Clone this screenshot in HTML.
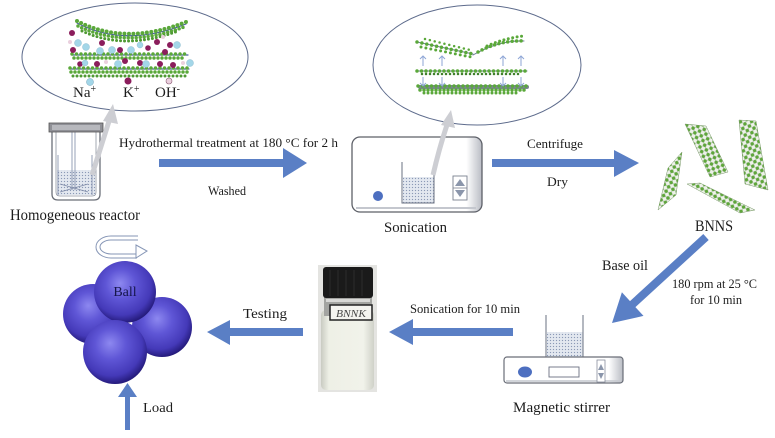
<!DOCTYPE html>
<html><head><meta charset="utf-8"><style>
html,body{margin:0;padding:0;background:#fff;}
svg{display:block;}
text{font-family:"Liberation Serif","DejaVu Serif",serif;fill:#1c1c1c;}
</style></head><body>
<svg width="775" height="438" viewBox="0 0 775 438" xmlns="http://www.w3.org/2000/svg">
<defs>
<pattern id="dots" width="3" height="3" patternUnits="userSpaceOnUse"><rect width="3" height="3" fill="#e3e8f0"/><circle cx="1.5" cy="1.5" r="0.65" fill="#8b99b6"/></pattern>
<pattern id="lat" width="5" height="5" patternUnits="userSpaceOnUse" patternTransform="rotate(-60)"><rect width="5" height="5" fill="#eef2ea"/><path d="M0,2.5 H5 M2.5,0 V5" stroke="#8a968a" stroke-width="0.6"/><circle cx="2.5" cy="2.5" r="1.7" fill="#5ea63a"/></pattern>
<pattern id="lat2" width="5" height="5" patternUnits="userSpaceOnUse" patternTransform="rotate(-20)"><rect width="5" height="5" fill="#eef2ea"/><path d="M0,2.5 H5 M2.5,0 V5" stroke="#8a968a" stroke-width="0.6"/><circle cx="2.5" cy="2.5" r="1.7" fill="#5ea63a"/></pattern>
<pattern id="lat3" width="5" height="5" patternUnits="userSpaceOnUse" patternTransform="rotate(25)"><rect width="5" height="5" fill="#eef2ea"/><path d="M0,2.5 H5 M2.5,0 V5" stroke="#8a968a" stroke-width="0.6"/><circle cx="2.5" cy="2.5" r="1.7" fill="#5ea63a"/></pattern>
<radialGradient id="ball" cx="0.45" cy="0.4" r="0.6" fx="0.42" fy="0.36">
<stop offset="0" stop-color="#8d88f0"/><stop offset="0.4" stop-color="#5f56d6"/><stop offset="0.8" stop-color="#4439b8"/><stop offset="1" stop-color="#251b7c"/></radialGradient>
<linearGradient id="dev" x1="0" y1="0" x2="1" y2="0"><stop offset="0" stop-color="#fff"/><stop offset="0.88" stop-color="#fff"/><stop offset="1" stop-color="#b9bcc4"/></linearGradient>
<linearGradient id="vial" x1="0" y1="0" x2="1" y2="0"><stop offset="0" stop-color="#c9cbc2"/><stop offset="0.15" stop-color="#eef0e6"/><stop offset="0.8" stop-color="#f1f2ea"/><stop offset="1" stop-color="#cfd1c8"/></linearGradient>
</defs>

<!-- Left ellipse -->
<ellipse cx="135" cy="57" rx="113" ry="54" fill="#fff" stroke="#5d6b8c" stroke-width="1"/>
<g fill="none" stroke-linecap="round">
<path d="M77,23 Q125,48 186,24" stroke="#4a5fa0" stroke-width="1.2"/>
<path d="M77,21 Q125,46 186,22" stroke="#5aa83a" stroke-width="4" stroke-dasharray="0 4.5"/>
<path d="M78,26 Q125,49 184,27" stroke="#5aa83a" stroke-width="3.5" stroke-dasharray="0 4"/>
<path d="M82,31 Q125,51 178,31" stroke="#4f9a33" stroke-width="3" stroke-dasharray="0 4"/>
<path d="M72,55 H188" stroke="#4a5fa0" stroke-width="1.2"/>
<path d="M72,54 H188" stroke="#5aa83a" stroke-width="3.5" stroke-dasharray="0 4.5"/>
<path d="M74,58 H186" stroke="#5aa83a" stroke-width="3.5" stroke-dasharray="0 4"/>
<path d="M70,69 H189" stroke="#4a5fa0" stroke-width="1.2"/>
<path d="M70,68 H189" stroke="#5aa83a" stroke-width="3.5" stroke-dasharray="0 4.5"/>
<path d="M71,72 H188" stroke="#5aa83a" stroke-width="3.5" stroke-dasharray="0 4"/>
<path d="M73,76 H186" stroke="#4f9a33" stroke-width="3" stroke-dasharray="0 4"/>
</g>
<g fill="#8b1d5c">
<circle cx="72" cy="33" r="3"/><circle cx="102" cy="43" r="3"/><circle cx="73" cy="50" r="3"/><circle cx="120" cy="50" r="3"/><circle cx="140" cy="63" r="3"/><circle cx="97" cy="64" r="3"/><circle cx="157" cy="42" r="3"/><circle cx="170" cy="45" r="3"/><circle cx="165" cy="52" r="3"/><circle cx="160" cy="64" r="3"/><circle cx="173" cy="65" r="3"/><circle cx="125" cy="61" r="3"/><circle cx="80" cy="64" r="2.8"/><circle cx="148" cy="48" r="2.8"/>
</g>
<g fill="#a3d6e8" stroke="#7fb3c8" stroke-width="0.4">
<circle cx="78" cy="43" r="3.5"/><circle cx="86" cy="47" r="3.5"/><circle cx="100" cy="51" r="3.5"/><circle cx="112" cy="50" r="3.5"/><circle cx="131" cy="50" r="3.5"/><circle cx="177" cy="45" r="3.5"/><circle cx="190" cy="63" r="3.5"/><circle cx="118" cy="64" r="3.5"/><circle cx="146" cy="64" r="3.5"/><circle cx="85" cy="63" r="3"/><circle cx="140" cy="45" r="3"/>
</g>
<g fill="#ead0de"><circle cx="70" cy="42" r="2"/><circle cx="163" cy="37" r="2"/><circle cx="183" cy="63" r="2"/><circle cx="106" cy="62" r="2"/></g>
<circle cx="90" cy="82" r="3.5" fill="#a3d6e8" stroke="#6fa3b8" stroke-width="0.5"/>
<circle cx="128" cy="81" r="3.5" fill="#8b1d5c"/>
<circle cx="169" cy="81" r="3" fill="#ead0de" stroke="#8b5a74" stroke-width="0.6"/>
<text x="73" y="97" font-size="15">Na<tspan font-size="10" dy="-5">+</tspan></text>
<text x="123" y="97" font-size="15">K<tspan font-size="10" dy="-5">+</tspan></text>
<text x="155" y="97" font-size="15">OH<tspan font-size="10" dy="-5">-</tspan></text>

<!-- Reactor -->
<path d="M52,132 V194 Q52,200 58,200 H94 Q100,200 100,194 V132" fill="#fff" stroke="#6b6f78" stroke-width="1.3"/>
<path d="M56,132 V192 Q56,196 60,196 H92 Q96,196 96,192 V132" fill="none" stroke="#8d93a0" stroke-width="0.8"/>
<rect x="57" y="170" width="38" height="25" fill="url(#dots)"/>
<path d="M58,155 V195 M92,155 V195" stroke="#7d89a6" stroke-width="0.8"/>
<path d="M72,125 V190 M75,125 V190" stroke="#7d89a6" stroke-width="0.8"/>
<path d="M60,184 L88,192 M60,192 L88,184" stroke="#7d89a6" stroke-width="0.8"/>
<rect x="49" y="123" width="54" height="9" fill="#8f9096" stroke="#555" stroke-width="0.8"/>
<rect x="52" y="125" width="48" height="5" fill="#b7b8bd"/>
<path d="M92,175 Q100,150 110,118" fill="none" stroke="#cdced3" stroke-width="5"/>
<polygon points="103,121 113,104 118,124" fill="#cdced3"/>

<!-- Hydrothermal arrow -->
<text x="119" y="147" font-size="13" textLength="219" lengthAdjust="spacingAndGlyphs">Hydrothermal treatment at 180 °C for 2 h</text>
<rect x="159" y="159" width="125" height="8" fill="#5a7fc5"/>
<polygon points="283,148 307,163 283,178" fill="#5a7fc5"/>
<text x="208" y="195" font-size="13" textLength="38" lengthAdjust="spacingAndGlyphs">Washed</text>
<text x="10" y="220" font-size="15.5" textLength="130" lengthAdjust="spacingAndGlyphs">Homogeneous reactor</text>

<!-- Second ellipse -->
<ellipse cx="477" cy="65" rx="104" ry="60" fill="#fff" stroke="#5d6b8c" stroke-width="1"/>
<g fill="none" stroke-linecap="round">
<path d="M417,42 L473,54" stroke="#6b7a96" stroke-width="1"/>
<path d="M417,42 L473,54" stroke="#5aa83a" stroke-width="3.5" stroke-dasharray="0 5"/>
<path d="M421,47 L471,57" stroke="#5aa83a" stroke-width="3" stroke-dasharray="0 5"/>
<path d="M425,39 L470,50" stroke="#5aa83a" stroke-width="2.5" stroke-dasharray="0 5"/>
<path d="M473,55 Q500,40 524,41" stroke="#6b7a96" stroke-width="1"/>
<path d="M478,52 Q500,40 524,41" stroke="#5aa83a" stroke-width="3.5" stroke-dasharray="0 4.5"/>
<path d="M487,46 Q505,38 524,36" stroke="#5aa83a" stroke-width="3" stroke-dasharray="0 4.5"/>
<path d="M417,71 H527" stroke="#6b7a96" stroke-width="1"/>
<path d="M417,71 H527" stroke="#5aa83a" stroke-width="3.5" stroke-dasharray="0 4.5"/>
<path d="M422,74 H522" stroke="#3f7f2a" stroke-width="2.5" stroke-dasharray="0 4"/>
<path d="M420,87 H527" stroke="#7b8496" stroke-width="4"/>
<path d="M418,86 H527" stroke="#5aa83a" stroke-width="3.5" stroke-dasharray="0 4.5"/>
<path d="M420,90 H525" stroke="#5aa83a" stroke-width="3.5" stroke-dasharray="0 4"/>
<path d="M424,93 H520" stroke="#5aa83a" stroke-width="3" stroke-dasharray="0 4"/>
</g>
<g stroke="#8ea6d6" stroke-width="1" fill="none">
<path d="M423,66 V56 M420,59 L423,56 L426,59"/>
<path d="M442,66 V56 M439,59 L442,56 L445,59"/>
<path d="M503,66 V56 M500,59 L503,56 L506,59"/>
<path d="M521,66 V56 M518,59 L521,56 L524,59"/>
<path d="M423,77 V86 M420,83 L423,86 L426,83"/>
<path d="M442,77 V86 M439,83 L442,86 L445,83"/>
<path d="M503,77 V86 M500,83 L503,86 L506,83"/>
<path d="M521,77 V86 M518,83 L521,86 L524,83"/>
</g>

<!-- Sonication device -->
<rect x="352" y="137" width="130" height="75" rx="8" fill="url(#dev)" stroke="#5d6068" stroke-width="1.3"/>
<path d="M356,208 H476" stroke="#c4c7ce" stroke-width="2"/>
<rect x="403" y="177" width="31" height="26" fill="url(#dots)"/>
<path d="M402,162 V203 H434 V162" fill="none" stroke="#6a7080" stroke-width="1"/>
<circle cx="378" cy="196" r="5" fill="#4d6fc0"/>
<rect x="453" y="176" width="14" height="24" fill="#fff" stroke="#7a8090" stroke-width="0.9"/>
<path d="M453,188 H467" stroke="#7a8090" stroke-width="0.8"/>
<polygon points="455,186 460,179 465,186" fill="#8b96ab"/>
<polygon points="455,190 460,197 465,190" fill="#8b96ab"/>
<path d="M433,175 Q440,145 448,122" fill="none" stroke="#cdced3" stroke-width="5"/>
<polygon points="441,125 451,110 455,128" fill="#cdced3"/>
<text x="384" y="232" font-size="15" textLength="63" lengthAdjust="spacingAndGlyphs">Sonication</text>

<!-- Centrifuge arrow -->
<text x="527" y="148" font-size="13" textLength="56" lengthAdjust="spacingAndGlyphs">Centrifuge</text>
<rect x="492" y="159" width="123" height="8" fill="#5a7fc5"/>
<polygon points="614,150 639,163 614,177" fill="#5a7fc5"/>
<text x="547" y="186" font-size="13" textLength="21" lengthAdjust="spacingAndGlyphs">Dry</text>

<!-- BNNS sheets -->
<polygon points="682,152 676,195 658,210 668,168" fill="url(#lat)" stroke="#7a9a6a" stroke-width="0.5"/>
<polygon points="685,124 706,126 728,172 710,177" fill="url(#lat2)" stroke="#7a9a6a" stroke-width="0.5"/>
<polygon points="739,120 756,121 768,190 745,184" fill="url(#lat3)" stroke="#7a9a6a" stroke-width="0.5"/>
<polygon points="687,184 700,183 755,210 740,213" fill="url(#lat)" stroke="#7a9a6a" stroke-width="0.5"/>
<text x="695" y="231" font-size="15.5" textLength="38" lengthAdjust="spacingAndGlyphs">BNNS</text>

<!-- Diagonal arrow -->
<polygon points="703.3,234 708.7,240 635.4,307.1 643.5,315.9 612,323 621.9,292.3 630,301.1" fill="#5a7fc5"/>
<text x="602" y="270" font-size="15" textLength="46" lengthAdjust="spacingAndGlyphs">Base oil</text>
<text x="672" y="288" font-size="12.5" textLength="85" lengthAdjust="spacingAndGlyphs">180 rpm at 25 °C</text>
<text x="690" y="304" font-size="12.5" textLength="52" lengthAdjust="spacingAndGlyphs">for 10 min</text>

<!-- Magnetic stirrer -->
<rect x="547" y="332" width="36" height="25" fill="url(#dots)"/>
<path d="M546,315 V357 M583,315 V357" stroke="#6a7080" stroke-width="1"/>
<rect x="504" y="357" width="119" height="26" rx="3" fill="url(#dev)" stroke="#6a6e78" stroke-width="1.2"/>
<path d="M506,381 H620" stroke="#c4c7ce" stroke-width="1.5"/>
<ellipse cx="525" cy="372" rx="7" ry="5.5" fill="#4d6fc0"/>
<rect x="549" y="367" width="30" height="10" fill="#fff" stroke="#6a7080" stroke-width="0.9"/>
<rect x="597" y="360" width="8" height="22" fill="#fff" stroke="#7a8090" stroke-width="0.7"/>
<polygon points="598,370 601,364 604,370" fill="#8b96ab"/>
<polygon points="598,373 601,379 604,373" fill="#8b96ab"/>
<text x="513" y="412" font-size="15" textLength="97" lengthAdjust="spacingAndGlyphs">Magnetic stirrer</text>

<!-- Sonication for 10 min arrow -->
<text x="410" y="313" font-size="13" textLength="110" lengthAdjust="spacingAndGlyphs">Sonication for 10 min</text>
<rect x="412" y="328" width="101" height="8" fill="#5a7fc5"/>
<polygon points="413,319 389,332 413,345" fill="#5a7fc5"/>

<!-- Vial -->
<rect x="318" y="265" width="59" height="127" fill="#e4e4e1"/>
<rect x="321" y="310" width="53" height="80" rx="5" fill="url(#vial)"/>
<rect x="324" y="296" width="48" height="20" fill="#a3a4a1"/>
<rect x="326" y="299" width="44" height="3" fill="#d8d8d6"/>
<rect x="323" y="267" width="50" height="31" rx="3" fill="#1a1a1a"/>
<path d="M330,270 V296 M338,270 V296 M346,270 V296 M354,270 V296 M362,270 V296" stroke="#2c2c2c" stroke-width="1"/>
<rect x="330" y="305" width="42" height="15" fill="#f4f4f0" stroke="#222" stroke-width="1.5"/>
<text x="336" y="317" font-size="10" font-style="italic" style="fill:#444" textLength="30" lengthAdjust="spacingAndGlyphs">BNNK</text>

<!-- Testing arrow -->
<text x="243" y="318" font-size="14" textLength="44" lengthAdjust="spacingAndGlyphs">Testing</text>
<rect x="229" y="328" width="74" height="8" fill="#5a7fc5"/>
<polygon points="230,320 207,332 230,345" fill="#5a7fc5"/>

<!-- Balls -->
<circle cx="93" cy="314" r="30" fill="url(#ball)"/>
<circle cx="162" cy="327" r="30" fill="url(#ball)"/>
<circle cx="125" cy="292" r="31" fill="url(#ball)"/>
<circle cx="115" cy="352" r="32" fill="url(#ball)"/>
<text x="125" y="296" font-size="14" text-anchor="middle" style="fill:#15154a">Ball</text>

<!-- rotation arrow -->
<path d="M138,238 H111 A13,9 0 0 0 111,256 H137" fill="none" stroke="#8696b6" stroke-width="5"/>
<path d="M138,238 H111 A13,9 0 0 0 111,256 H137" fill="none" stroke="#fff" stroke-width="3"/>
<polygon points="136,245 147,251 136,258" fill="#fff" stroke="#8696b6" stroke-width="1"/>

<!-- Load arrow -->
<rect x="125" y="396" width="5" height="34" fill="#5a7fc5"/>
<polygon points="118,397 127.5,383 137,397" fill="#5a7fc5"/>
<text x="143" y="412" font-size="14" textLength="30" lengthAdjust="spacingAndGlyphs">Load</text>
</svg>
</body></html>
